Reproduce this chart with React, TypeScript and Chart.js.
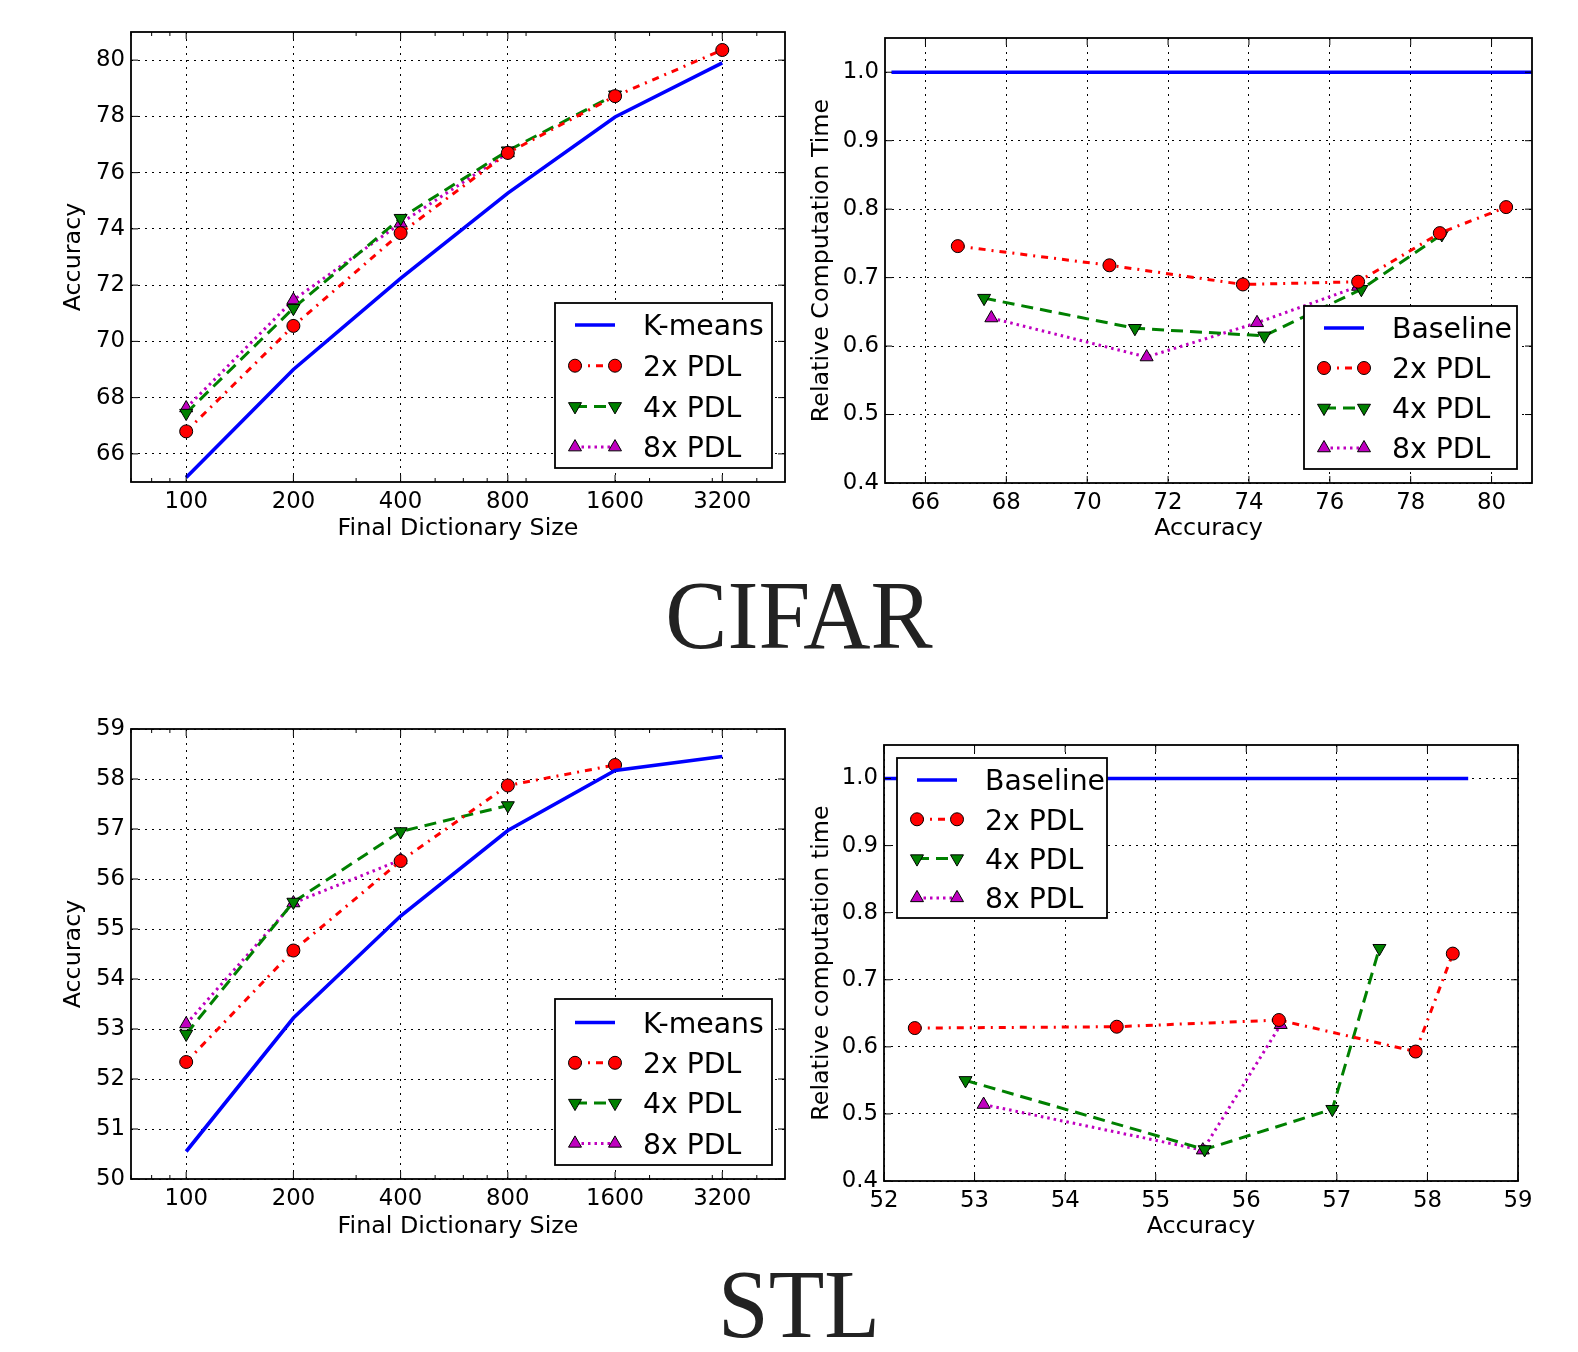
import React, { useEffect, useRef } from "react";
import { Chart, registerables } from "chart.js";
Chart.register(...registerables);

// ---------------- data ----------------
const dictSizes = [100, 200, 400, 800, 1600, 3200];
const dictTickLabels = ["100", "200", "400", "800", "1600", "3200"];

const cifarKmeans = [65.16, 69.0, 72.24, 75.27, 77.98, 79.9];
const cifar2xAcc = [66.8, 70.55, 73.85, 76.7, 78.72, 80.36];
const cifar4xAcc = [67.45, 71.18, 74.38, 76.78, 78.77];
const cifar8xAcc = [67.63, 71.47, 74.2, 76.7];
const cifar2xTime = [0.746, 0.718, 0.69, 0.694, 0.765, 0.803];
const cifar4xTime = [0.67, 0.626, 0.615, 0.683, 0.763];
const cifar8xTime = [0.641, 0.584, 0.634, 0.687];
const cifarBaselineAcc = [65.16, 81.0];

const stlKmeans = [50.55, 53.22, 55.26, 56.97, 58.17, 58.45];
const stl2xAcc = [52.34, 54.57, 56.36, 57.87, 58.28];
const stl4xAcc = [52.9, 55.54, 56.95, 57.47];
const stl8xAcc = [53.1, 55.52, 56.38];
const stl2xTime = [0.628, 0.63, 0.64, 0.593, 0.739];
const stl4xTime = [0.55, 0.447, 0.507, 0.747];
const stl8xTime = [0.514, 0.446, 0.633];
const stlBaselineAcc = [50.55, 58.45];

const baselineTime = [1.0, 1.0];

const cifarAccTicks = [66, 68, 70, 72, 74, 76, 78, 80];
const stlAccTicks = [50, 51, 52, 53, 54, 55, 56, 57, 58, 59];
const stlAccXTicks = [52, 53, 54, 55, 56, 57, 58, 59];
const timeTicks = [0.4, 0.5, 0.6, 0.7, 0.8, 0.9, 1.0];

// ---------------- styles ----------------
const FONT = "DejaVu Sans";
const TICK_SIZE = 22.8;
const TITLE_SIZE = 23.8;
const LEGEND_SIZE = 28.3;
const STY = {
  kmeans: { color: "#0000ff", width: 3.6, dash: [] as number[], point: "none", rot: 0 },
  p2: { color: "#ff0000", width: 3, dash: [7, 6, 2, 6], point: "circle", rot: 0 },
  p4: { color: "#008000", width: 3, dash: [12, 7], point: "triangle", rot: 180 },
  p8: { color: "#bf00bf", width: 3, dash: [2.5, 4], point: "triangle", rot: 0 },
};

function series(label: string, xs: number[], ys: number[], s: any) {
  return {
    label,
    data: xs.map((x, i) => ({ x, y: ys[i] })),
    borderColor: s.color,
    backgroundColor: s.color,
    borderWidth: s.width,
    borderDash: s.dash,
    pointStyle: s.point === "none" ? false : s.point,
    pointRadius: s.point === "none" ? 0 : s.point === "circle" ? 6.5 : 7.5,
    pointRotation: s.rot,
    pointBackgroundColor: s.color,
    pointBorderColor: "#000",
    pointBorderWidth: 1,
    tension: 0,
    fill: false,
    clip: 0,
    _sty: s,
  };
}

function drawMarker(ctx: CanvasRenderingContext2D, s: any, x: number, y: number) {
  if (s.point === "none") return;
  ctx.save();
  ctx.fillStyle = s.color;
  ctx.strokeStyle = "#000";
  ctx.lineWidth = 1;
  ctx.setLineDash([]);
  ctx.beginPath();
  if (s.point === "circle") {
    ctx.arc(x, y, 6.5, 0, Math.PI * 2);
  } else {
    const r = 7.5;
    let rad = (s.rot * Math.PI) / 180;
    for (let k = 0; k < 3; k++) {
      const px = x + Math.sin(rad) * r;
      const py = y - Math.cos(rad) * r;
      if (k === 0) ctx.moveTo(px, py);
      else ctx.lineTo(px, py);
      rad += (2 * Math.PI) / 3;
    }
    ctx.closePath();
  }
  ctx.fill();
  ctx.stroke();
  ctx.restore();
}

type Spec = {
  area: { left: number; top: number; right: number; bottom: number };
  yTitleX: number;
  xTitleY: number;
  xType: "logarithmic" | "linear";
  xMin: number;
  xMax: number;
  xTicks: number[];
  xLabels: string[];
  xMinor: number[];
  yMin: number;
  yMax: number;
  yTicks: number[];
  yLabels: string[];
  xTitle: string;
  yTitle: string;
  datasets: any[];
  legend: { left: number; top: number; width: number; height: number; row0: number; gap: number };
};

const HALF_TITLE = (TITLE_SIZE * 1.2) / 2;

function geometry(spec: Spec) {
  const cl = Math.round(spec.yTitleX - HALF_TITLE);
  const ct = spec.area.top - 30;
  const cw = Math.round(spec.area.right + 40 - cl);
  const ch = Math.round(spec.xTitleY + HALF_TITLE - ct);
  return { cl, ct, cw, ch };
}

function Panel({ spec }: { spec: Spec }) {
  const ref = useRef<HTMLCanvasElement | null>(null);
  const g = geometry(spec);
  useEffect(() => {
    if (!ref.current) return;
    const { cl, ct, cw, ch } = g;
    const a = spec.area;
    const frame = {
      id: "frame",
      afterDatasetsDraw(chart: any) {
        const { ctx, chartArea: ca, scales } = chart;
        const xs = scales.x;
        const ys = scales.y;
        ctx.save();
        ctx.strokeStyle = "#000";
        ctx.lineWidth = 1;
        ctx.setLineDash([]);
        ctx.beginPath();
        for (const v of spec.xTicks) {
          const px = xs.getPixelForValue(v);
          ctx.moveTo(px, ca.bottom);
          ctx.lineTo(px, ca.bottom - 7);
          ctx.moveTo(px, ca.top);
          ctx.lineTo(px, ca.top + 7);
        }
        for (const v of spec.xMinor) {
          const px = xs.getPixelForValue(v);
          ctx.moveTo(px, ca.bottom);
          ctx.lineTo(px, ca.bottom - 4);
          ctx.moveTo(px, ca.top);
          ctx.lineTo(px, ca.top + 4);
        }
        for (const v of spec.yTicks) {
          const py = ys.getPixelForValue(v);
          ctx.moveTo(ca.left, py);
          ctx.lineTo(ca.left + 7, py);
          ctx.moveTo(ca.right, py);
          ctx.lineTo(ca.right - 7, py);
        }
        ctx.stroke();
        ctx.lineWidth = 1.8;
        ctx.strokeRect(ca.left, ca.top, ca.right - ca.left, ca.bottom - ca.top);
        ctx.restore();
      },
    };
    const legend = {
      id: "boxLegend",
      afterDraw(chart: any) {
        const ctx: CanvasRenderingContext2D = chart.ctx;
        const L = spec.legend;
        const ox = L.left - cl;
        const oy = L.top - ct;
        ctx.save();
        ctx.fillStyle = "#fff";
        ctx.fillRect(ox, oy, L.width, L.height);
        ctx.strokeStyle = "#000";
        ctx.lineWidth = 1.8;
        ctx.setLineDash([]);
        ctx.strokeRect(ox, oy, L.width, L.height);
        chart.data.datasets.forEach((ds: any, i: number) => {
          const s = ds._sty;
          const y = oy + L.row0 + i * L.gap;
          const x1 = ox + 20;
          const x2 = ox + 60;
          ctx.save();
          ctx.strokeStyle = s.color;
          ctx.lineWidth = s.width;
          ctx.setLineDash(s.dash);
          ctx.beginPath();
          ctx.moveTo(x1, y);
          ctx.lineTo(x2, y);
          ctx.stroke();
          ctx.restore();
          drawMarker(ctx, s, x1, y);
          drawMarker(ctx, s, x2, y);
          ctx.fillStyle = "#000";
          ctx.font = `${LEGEND_SIZE}px "${FONT}"`;
          ctx.textBaseline = "middle";
          ctx.textAlign = "left";
          ctx.fillText(ds.label, ox + 88, y + 3);
        });
        ctx.restore();
      },
    };
    const chart = new Chart(ref.current, {
      type: "line",
      data: { datasets: spec.datasets },
      plugins: [frame, legend],
      options: {
        animation: false,
        responsive: false,
        maintainAspectRatio: false,
        layout: { padding: { left: 0, top: a.top - ct, right: cl + cw - a.right, bottom: 0 } },
        plugins: { legend: { display: false }, tooltip: { enabled: false }, title: { display: false } },
        scales: {
          x: {
            type: spec.xType,
            min: spec.xMin,
            max: spec.xMax,
            afterBuildTicks: (s: any) => {
              s.ticks = spec.xTicks.map((v) => ({ value: v }));
            },
            afterFit: (s: any) => {
              s.height = ct + ch - a.bottom;
            },
            ticks: {
              autoSkip: false,
              maxRotation: 0,
              minRotation: 0,
              padding: 6,
              color: "#000",
              font: { family: FONT, size: TICK_SIZE },
              callback: (_v: any, i: number) => spec.xLabels[i],
            },
            grid: { color: "#000", lineWidth: 1, drawTicks: false },
            border: { display: false, dash: [2, 5] },
            title: {
              display: true,
              text: spec.xTitle,
              color: "#000",
              font: { family: FONT, size: TITLE_SIZE },
              padding: 0,
            },
          },
          y: {
            type: "linear",
            min: spec.yMin,
            max: spec.yMax,
            afterBuildTicks: (s: any) => {
              s.ticks = spec.yTicks.map((v) => ({ value: v }));
            },
            afterFit: (s: any) => {
              s.width = a.left - cl;
            },
            ticks: {
              padding: 6,
              color: "#000",
              font: { family: FONT, size: TICK_SIZE },
              callback: (_v: any, i: number) => spec.yLabels[i],
            },
            grid: { color: "#000", lineWidth: 1, drawTicks: false },
            border: { display: false, dash: [2, 5] },
            title: {
              display: true,
              text: spec.yTitle,
              color: "#000",
              font: { family: FONT, size: TITLE_SIZE },
              padding: 0,
            },
          },
        },
      } as any,
    });
    return () => chart.destroy();
  }, []);
  return (
    <canvas
      ref={ref}
      width={g.cw}
      height={g.ch}
      style={{ position: "absolute", left: g.cl, top: g.ct, width: g.cw, height: g.ch }}
    />
  );
}

const logMinor = [70, 80, 90, 300, 500, 600, 700, 900, 2000, 3000, 4000];

const cifarLeft: Spec = {
  area: { left: 131, top: 32, right: 785, bottom: 482 },
  yTitleX: 74,
  xTitleY: 529,
  xType: "logarithmic",
  xMin: 70,
  xMax: 4800,
  xTicks: dictSizes,
  xLabels: dictTickLabels,
  xMinor: logMinor,
  yMin: 65,
  yMax: 81,
  yTicks: cifarAccTicks,
  yLabels: cifarAccTicks.map(String),
  xTitle: "Final Dictionary Size",
  yTitle: "Accuracy",
  datasets: [
    series("K-means", dictSizes, cifarKmeans, STY.kmeans),
    series("2x PDL", dictSizes, cifar2xAcc, STY.p2),
    series("4x PDL", dictSizes, cifar4xAcc, STY.p4),
    series("8x PDL", dictSizes, cifar8xAcc, STY.p8),
  ],
  legend: { left: 555, top: 303, width: 217, height: 165, row0: 22, gap: 40.7 },
};

const cifarRight: Spec = {
  area: { left: 885, top: 38, right: 1532, bottom: 483 },
  yTitleX: 822,
  xTitleY: 529,
  xType: "linear",
  xMin: 65,
  xMax: 81,
  xTicks: cifarAccTicks,
  xLabels: cifarAccTicks.map(String),
  xMinor: [],
  yMin: 0.4,
  yMax: 1.05,
  yTicks: timeTicks,
  yLabels: timeTicks.map((v) => v.toFixed(1)),
  xTitle: "Accuracy",
  yTitle: "Relative Computation Time",
  datasets: [
    series("Baseline", cifarBaselineAcc, baselineTime, STY.kmeans),
    series("2x PDL", cifar2xAcc, cifar2xTime, STY.p2),
    series("4x PDL", cifar4xAcc, cifar4xTime, STY.p4),
    series("8x PDL", cifar8xAcc, cifar8xTime, STY.p8),
  ],
  legend: { left: 1304, top: 306, width: 213, height: 163, row0: 22, gap: 40 },
};

const stlLeft: Spec = {
  area: { left: 131, top: 729, right: 785, bottom: 1179 },
  yTitleX: 74,
  xTitleY: 1227,
  xType: "logarithmic",
  xMin: 70,
  xMax: 4800,
  xTicks: dictSizes,
  xLabels: dictTickLabels,
  xMinor: logMinor,
  yMin: 50,
  yMax: 59,
  yTicks: stlAccTicks,
  yLabels: stlAccTicks.map(String),
  xTitle: "Final Dictionary Size",
  yTitle: "Accuracy",
  datasets: [
    series("K-means", dictSizes, stlKmeans, STY.kmeans),
    series("2x PDL", dictSizes, stl2xAcc, STY.p2),
    series("4x PDL", dictSizes, stl4xAcc, STY.p4),
    series("8x PDL", dictSizes, stl8xAcc, STY.p8),
  ],
  legend: { left: 555, top: 999, width: 217, height: 166, row0: 23.5, gap: 40.3 },
};

const stlRight: Spec = {
  area: { left: 884, top: 745, right: 1518, bottom: 1181 },
  yTitleX: 822,
  xTitleY: 1227,
  xType: "linear",
  xMin: 52,
  xMax: 59,
  xTicks: stlAccXTicks,
  xLabels: stlAccXTicks.map(String),
  xMinor: [],
  yMin: 0.4,
  yMax: 1.05,
  yTicks: timeTicks,
  yLabels: timeTicks.map((v) => v.toFixed(1)),
  xTitle: "Accuracy",
  yTitle: "Relative computation time",
  datasets: [
    series("Baseline", stlBaselineAcc, baselineTime, STY.kmeans),
    series("2x PDL", stl2xAcc, stl2xTime, STY.p2),
    series("4x PDL", stl4xAcc, stl4xTime, STY.p4),
    series("8x PDL", stl8xAcc, stl8xTime, STY.p8),
  ],
  legend: { left: 897, top: 758, width: 210, height: 160, row0: 22, gap: 39.3 },
};

const titleStyle = (top: number): React.CSSProperties => ({
  position: "absolute",
  left: 399,
  width: 800,
  top,
  textAlign: "center",
  fontFamily: '"Liberation Serif", serif',
  fontSize: 98,
  lineHeight: "100px",
  color: "#222",
  transform: "scaleX(0.95)",
  transformOrigin: "50% 50%",
  whiteSpace: "nowrap",
});

export default function App() {
  return (
    <div style={{ position: "absolute", left: 0, top: 0, width: 1578, height: 1352, background: "#fff", overflow: "hidden" }}>
      <Panel spec={cifarLeft} />
      <Panel spec={cifarRight} />
      <div style={titleStyle(565)}>CIFAR</div>
      <Panel spec={stlLeft} />
      <Panel spec={stlRight} />
      <div style={{ ...titleStyle(1254), transform: "scaleX(0.93)" }}>STL</div>
    </div>
  );
}
